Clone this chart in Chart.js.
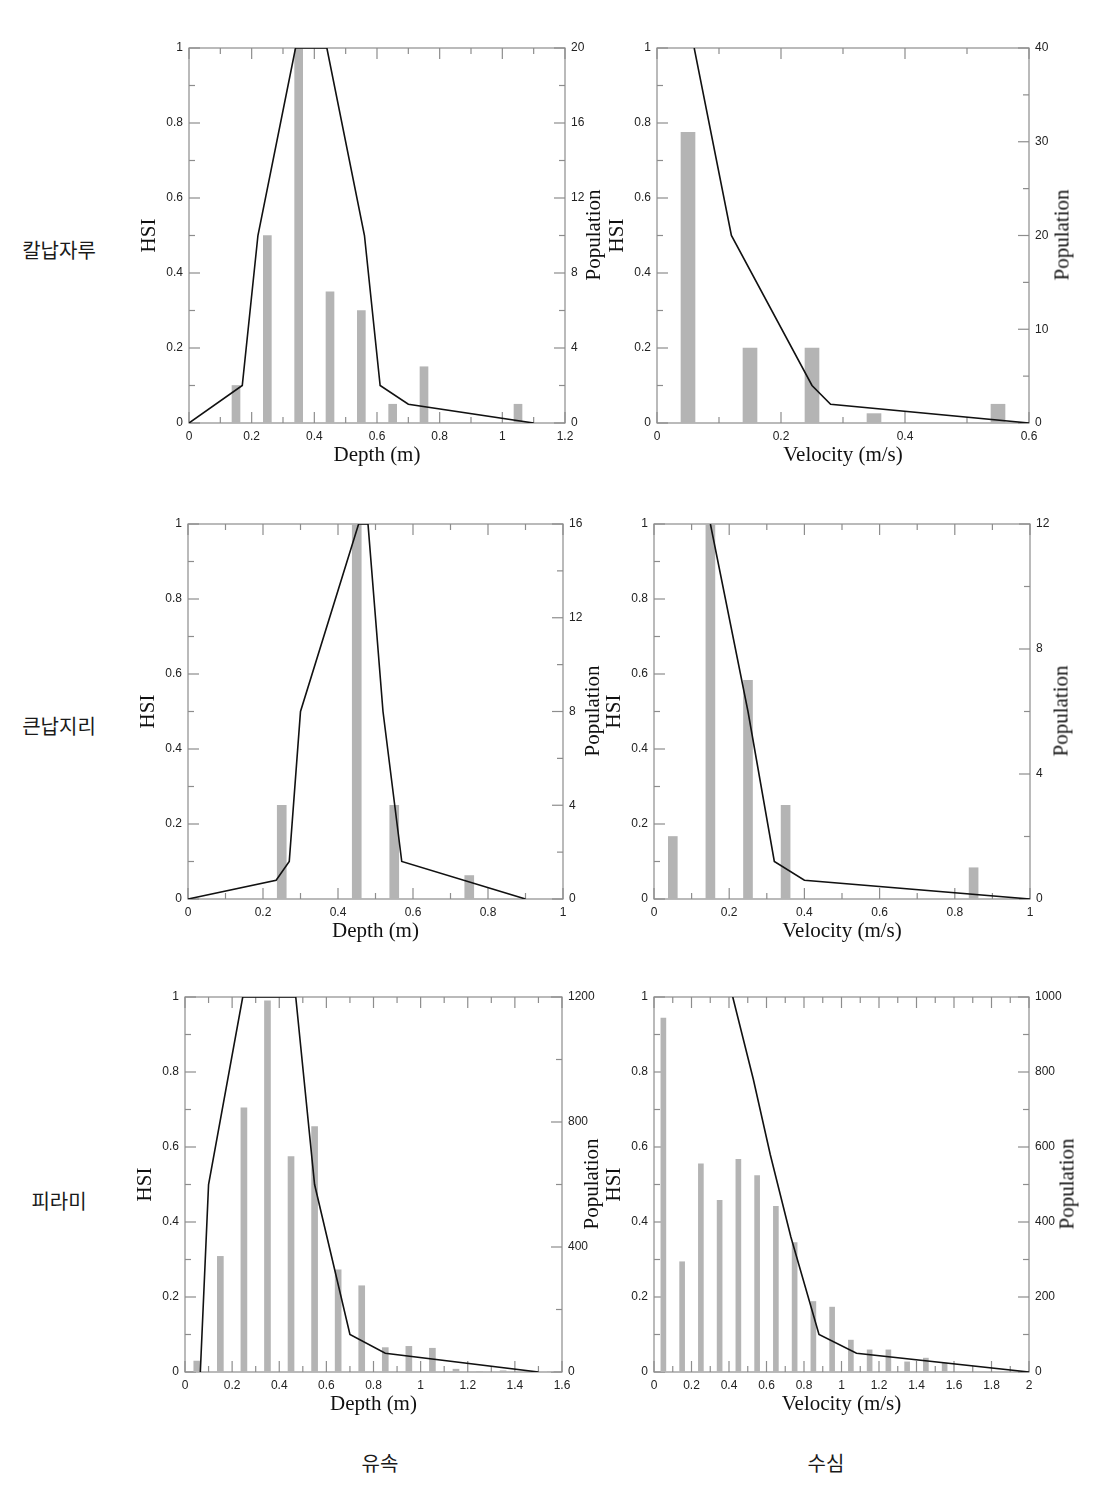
<!DOCTYPE html>
<html>
<head>
<meta charset="utf-8">
<script src="https://cdn.jsdelivr.net/npm/chart.js@4.4.1/dist/chart.umd.min.js"></script>
<style>
html,body{margin:0;padding:0;background:#fff;}
#page{position:relative;width:1107px;height:1485px;overflow:hidden;background:#fff;}
.panel{position:absolute;}
.lab{position:absolute;font-family:"Noto Sans CJK KR","Noto Sans",sans-serif;font-size:20px;color:#1a1a1a;transform:translate(-50%,-50%);white-space:nowrap;}
.pop{position:absolute;font-family:"Liberation Serif","Times New Roman",serif;font-size:21px;color:#111;transform:translate(-50%,-50%) rotate(-90deg);white-space:nowrap;}
</style>
</head>
<body>
<div id="page"></div>
<script>
// ---------- data ----------
// 칼납자루 – depth
const kalDepthHsiX = [0, 0.17, 0.22, 0.34, 0.44, 0.56, 0.61, 0.70, 1.10];
const kalDepthHsiY = [0, 0.10, 0.50, 1.00, 1.00, 0.50, 0.10, 0.05, 0];
const kalDepthBins = [0.15, 0.25, 0.35, 0.45, 0.55, 0.65, 0.75, 1.05];
const kalDepthPop  = [2, 10, 20, 7, 6, 1, 3, 1];
// 칼납자루 – velocity
const kalVelHsiX = [0.06, 0.12, 0.25, 0.28, 0.60];
const kalVelHsiY = [1.00, 0.50, 0.10, 0.05, 0];
const kalVelBins = [0.05, 0.15, 0.25, 0.35, 0.55];
const kalVelPop  = [31, 8, 8, 1, 2];
// 큰납지리 – depth
const kunDepthHsiX = [0, 0.235, 0.27, 0.30, 0.455, 0.48, 0.52, 0.57, 0.90];
const kunDepthHsiY = [0, 0.05, 0.10, 0.50, 1.00, 1.00, 0.50, 0.10, 0];
const kunDepthBins = [0.25, 0.45, 0.55, 0.75];
const kunDepthPop  = [4, 16, 4, 1];
// 큰납지리 – velocity
const kunVelHsiX = [0.15, 0.25, 0.32, 0.40, 1.00];
const kunVelHsiY = [1.00, 0.50, 0.10, 0.05, 0];
const kunVelBins = [0.05, 0.15, 0.25, 0.35, 0.85];
const kunVelPop  = [2, 12, 7, 3, 1];
// 피라미 – depth
const piDepthHsiX = [0.065, 0.10, 0.245, 0.47, 0.55, 0.70, 0.85, 1.50];
const piDepthHsiY = [0, 0.50, 1.00, 1.00, 0.50, 0.10, 0.05, 0];
const piDepthBins = [0.05, 0.15, 0.25, 0.35, 0.45, 0.55, 0.65, 0.75, 0.85, 0.95, 1.05, 1.15, 1.25, 1.35, 1.45, 1.55];
const piDepthPop  = [35, 370, 845, 1188, 689, 785, 327, 276, 78, 82, 76, 9, 2, 4, 2, 2];
// 피라미 – velocity
const piVelHsiX = [0.42, 0.53, 0.62, 0.73, 0.88, 1.08, 2.00];
const piVelHsiY = [1.00, 0.78, 0.58, 0.36, 0.10, 0.05, 0];
const piVelBins = [0.05, 0.15, 0.25, 0.35, 0.45, 0.55, 0.65, 0.75, 0.85, 0.95, 1.05, 1.15, 1.25, 1.35, 1.45, 1.55];
const piVelPop  = [944, 294, 555, 458, 567, 524, 442, 345, 188, 173, 85, 59, 59, 27, 37, 24];

// axis ranges / tick labels
const hsiTitle = 'HSI';
const popTitle = 'Population';
const depthTitle = 'Depth (m)';
const velTitle = 'Velocity (m/s)';
const rowLabels = ['칼납자루', '큰납지리', '피라미'];
const colLabels = ['유속', '수심'];

// ---------- layout ----------
const panels = [
  {hx:kalDepthHsiX, hy:kalDepthHsiY, bx:kalDepthBins, by:kalDepthPop, xMax:1.2, popMax:20,   popStep:2,   popLabel:4,   xTitle:depthTitle, L:189, T:48,  R:565,  B:423,  bar:8,  popX:593,  popY:235},
  {hx:kalVelHsiX,   hy:kalVelHsiY,   bx:kalVelBins,   by:kalVelPop,   xMax:0.6, popMax:40,   popStep:5,   popLabel:10,  xTitle:velTitle,   L:657, T:48,  R:1029, B:423,  bar:14, popX:1062, popY:235},
  {hx:kunDepthHsiX, hy:kunDepthHsiY, bx:kunDepthBins, by:kunDepthPop, xMax:1.0, popMax:16,   popStep:2,   popLabel:4,   xTitle:depthTitle, L:188, T:524, R:563,  B:899,  bar:9,  popX:592,  popY:711},
  {hx:kunVelHsiX,   hy:kunVelHsiY,   bx:kunVelBins,   by:kunVelPop,   xMax:1.0, popMax:12,   popStep:2,   popLabel:4,   xTitle:velTitle,   L:654, T:524, R:1030, B:899,  bar:9,  popX:1061, popY:711},
  {hx:piDepthHsiX,  hy:piDepthHsiY,  bx:piDepthBins,  by:piDepthPop,  xMax:1.6, popMax:1200, popStep:200, popLabel:400, xTitle:depthTitle, L:185, T:997, R:562,  B:1372, bar:6,  popX:591,  popY:1184},
  {hx:piVelHsiX,    hy:piVelHsiY,    bx:piVelBins,    by:piVelPop,    xMax:2.0, popMax:1000, popStep:100, popLabel:200, xTitle:velTitle,   L:654, T:997, R:1029, B:1372, bar:5,  popX:1067, popY:1184}
];
const rowLabelPos = [[59,249],[59,725],[59,1200]];
const colLabelPos = [[380,1462],[826,1462]];

const page = document.getElementById('page');
const tickFont = {family:'"Liberation Sans", Arial, sans-serif', size:12};
const titleFont = {family:'"Liberation Serif", "Times New Roman", serif', size:21, lineHeight:1};
const fmt1 = v => String(+(+v).toFixed(1));

const frameTicks = {
  id:'frameTicks',
  beforeDatasetsDraw(chart){
    const {ctx, chartArea:a, scales} = chart;
    ctx.save();
    ctx.strokeStyle = '#8d8d8d';
    ctx.lineWidth = 1.2;
    ctx.strokeRect(a.left, a.top, a.right - a.left, a.bottom - a.top);
    const seg = (x1,y1,x2,y2) => {ctx.beginPath(); ctx.moveTo(x1,y1); ctx.lineTo(x2,y2); ctx.stroke();};
    scales.x.ticks.forEach(t => {
      const px = scales.x.getPixelForValue(t.value);
      const len = t.label ? 11 : 6;
      seg(px, a.bottom, px, a.bottom - len);
      seg(px, a.top, px, a.top + len);
    });
    scales.y.ticks.forEach(t => {
      const py = scales.y.getPixelForValue(t.value);
      const len = t.label ? 11 : 6;
      seg(a.left, py, a.left + len, py);
    });
    scales.y1.ticks.forEach(t => {
      const py = scales.y1.getPixelForValue(t.value);
      const len = t.label ? 11 : 6;
      seg(a.right, py, a.right - len, py);
    });
    ctx.restore();
  }
};

panels.forEach(p => {
  const W = p.R - p.L, H = p.B - p.T;
  const cw = W + 110, ch = H + 65;
  const div = document.createElement('div');
  div.className = 'panel';
  div.style.left = (p.L - 60) + 'px';
  div.style.top = (p.T - 15) + 'px';
  div.style.width = cw + 'px';
  div.style.height = ch + 'px';
  const canvas = document.createElement('canvas');
  canvas.width = cw; canvas.height = ch;
  canvas.style.width = cw + 'px'; canvas.style.height = ch + 'px';
  div.appendChild(canvas);
  page.appendChild(div);

  new Chart(canvas, {
    type:'line',
    data:{datasets:[
      {type:'line', label:'HSI', data:p.hx.map((x,i)=>({x:x, y:p.hy[i]})), yAxisID:'y', xAxisID:'x',
       borderColor:'#111', borderWidth:1.6, pointRadius:0, tension:0, fill:false, order:0},
      {type:'bar', label:'Population', data:p.bx.map((x,i)=>({x:x, y:p.by[i]})), yAxisID:'y1', xAxisID:'x',
       backgroundColor:'#b4b4b4', borderWidth:0, barThickness:p.bar, order:1}
    ]},
    options:{
      responsive:false, animation:false, events:[],
      layout:{padding:{top:15, left:0, right:0, bottom:0}},
      plugins:{legend:{display:false}, tooltip:{enabled:false}},
      scales:{
        x:{type:'linear', position:'bottom', min:0, max:p.xMax, offset:false,
           grid:{display:false, drawTicks:false}, border:{display:false},
           ticks:{stepSize:0.1, autoSkip:false, maxRotation:0, minRotation:0, padding:6, font:tickFont, color:'#222',
                  callback:v => (Math.round(v*10) % 2 === 0 ? fmt1(v) : '')},
           title:{display:true, text:p.xTitle, font:titleFont, color:'#111', padding:{top:0, bottom:7.5}},
           afterFit:s => { s.height = 50; }},
        y:{type:'linear', position:'left', min:0, max:1,
           grid:{display:false, drawTicks:false}, border:{display:false},
           ticks:{stepSize:0.1, autoSkip:false, padding:6, font:tickFont, color:'#222',
                  callback:v => (Math.round(v*10) % 2 === 0 ? fmt1(v) : '')},
           title:{display:true, text:hsiTitle, font:titleFont, color:'#111', padding:{top:9.5, bottom:0}},
           afterFit:s => { s.width = 60; }},
        y1:{type:'linear', position:'right', min:0, max:p.popMax,
           grid:{display:false, drawTicks:false}, border:{display:false},
           ticks:{stepSize:p.popStep, autoSkip:false, padding:6, font:tickFont, color:'#222',
                  callback:v => (Math.round(v) % p.popLabel === 0 ? String(Math.round(v)) : '')},
           afterFit:s => { s.width = 50; }}
      }
    },
    plugins:[frameTicks]
  });

  const pt = document.createElement('div');
  pt.className = 'pop';
  pt.style.left = p.popX + 'px';
  pt.style.top = p.popY + 'px';
  pt.textContent = popTitle;
  page.appendChild(pt);
});

rowLabels.forEach((t,i) => {
  const d = document.createElement('div');
  d.className = 'lab';
  d.style.left = rowLabelPos[i][0] + 'px';
  d.style.top = rowLabelPos[i][1] + 'px';
  d.textContent = t;
  page.appendChild(d);
});
colLabels.forEach((t,i) => {
  const d = document.createElement('div');
  d.className = 'lab';
  d.style.left = colLabelPos[i][0] + 'px';
  d.style.top = colLabelPos[i][1] + 'px';
  d.textContent = t;
  page.appendChild(d);
});
</script>
</body>
</html>
